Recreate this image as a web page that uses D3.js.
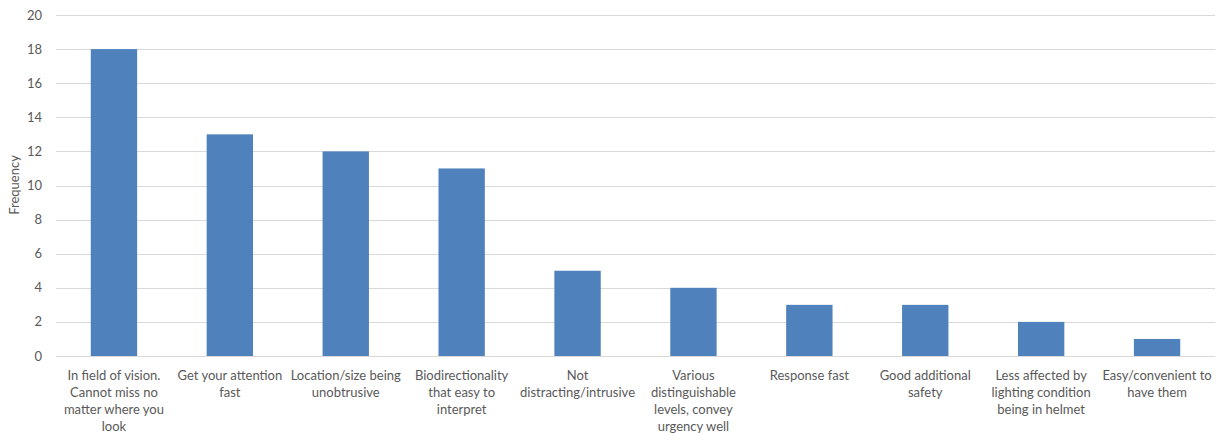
<!DOCTYPE html>
<html><head><meta charset="utf-8">
<script src="https://cdn.jsdelivr.net/npm/d3@7"></script>
<style>body{margin:0;background:#fff;} text{font-family:Lato,"Open Sans",sans-serif;}</style>
</head><body><svg id="c" width="1222" height="433"></svg>
<script>
const categories = [
  "In field of vision.|Cannot miss no|matter where you|look",
  "Get your attention|fast",
  "Location/size being|unobtrusive",
  "Biodirectionality|that easy to|interpret",
  "Not|distracting/intrusive",
  "Various|distinguishable|levels, convey|urgency well",
  "Response fast",
  "Good additional|safety",
  "Less affected by|lighting condition|being in helmet",
  "Easy/convenient to|have them"
];
const values = [18, 13, 12, 11, 5, 4, 3, 3, 2, 1];
const yTicks = [0, 2, 4, 6, 8, 10, 12, 14, 16, 18, 20];
const yTitle = "Frequency";

(function () {
const svg = d3.select("#c");
const mL = 56, mR = 1215, mT = 15, mB = 356;
const x = d3.scaleBand().domain(categories).range([mL, mR]).paddingInner(0.6).paddingOuter(0.3);
const y = d3.scaleLinear().domain([0, 20]).range([mB, mT]);

svg.append("g").selectAll("line").data(yTicks).join("line")
  .attr("x1", mL).attr("x2", mR)
  .attr("y1", d => Math.round(y(d)) + 0.5).attr("y2", d => Math.round(y(d)) + 0.5)
  .attr("stroke", "#d9d9d9").attr("stroke-width", 1);

svg.append("g").selectAll("text").data(yTicks).join("text")
  .attr("x", 42).attr("y", d => y(d)).attr("dy", "0.35em")
  .attr("text-anchor", "end").attr("font-size", 13).attr("fill", "#595959")
  .text(d => d);

svg.append("g").selectAll("rect").data(values).join("rect")
  .attr("x", (d, i) => x(categories[i])).attr("width", x.bandwidth())
  .attr("y", d => y(d)).attr("height", d => y(0) - y(d))
  .attr("fill", "#4f81bd");

const lab = svg.append("g").selectAll("text").data(categories).join("text")
  .attr("x", d => x(d) + x.bandwidth() / 2).attr("y", 380)
  .attr("text-anchor", "middle").attr("font-size", 13).attr("fill", "#595959");
lab.each(function(d) {
  const t = d3.select(this);
  d.split("|").forEach((ln, i) => {
    t.append("tspan").attr("x", x(d) + x.bandwidth() / 2).attr("y", 380 + i * 17).text(ln);
  });
});

svg.append("text").attr("transform", "translate(19,185) rotate(-90)")
  .attr("text-anchor", "middle").attr("font-size", 13).attr("fill", "#595959").text(yTitle);
})();
</script></body></html>
